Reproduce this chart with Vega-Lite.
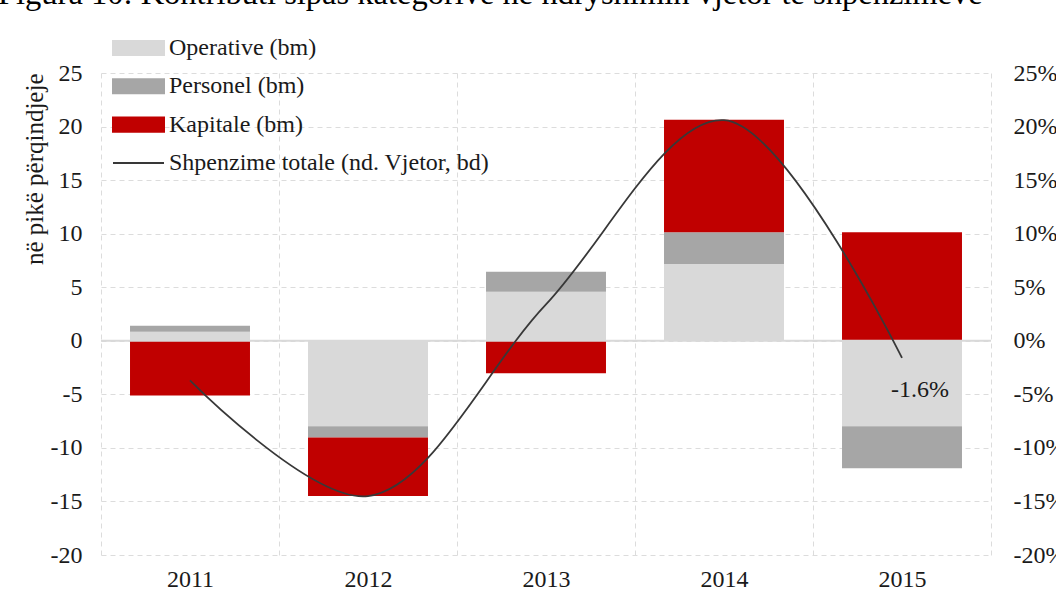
{
  "$schema": "https://vega.github.io/schema/vega-lite/v6.json",
  "width": 890,
  "height": 482,
  "autosize": {"type": "none"},
  "padding": {"left": 101, "top": 73, "right": 65, "bottom": 44},
  "title": {
    "text": "Figura 10: Kontributi sipas kategorive në ndryshimin vjetor të shpenzimeve",
    "anchor": "start",
    "frame": "bounds",
    "font": "Liberation Serif",
    "fontSize": 32.5,
    "fontWeight": "normal",
    "color": "#000000",
    "offset": 18,
    "dx": -24,
    "dy": -4
  },
  "config": {
    "font": "Liberation Serif",
    "view": {"stroke": null},
    "axis": {
      "labelFont": "Liberation Serif",
      "labelFontSize": 24,
      "labelColor": "#1a1a1a",
      "titleFont": "Liberation Serif",
      "titleFontSize": 25,
      "titleFontWeight": "normal",
      "titleColor": "#1a1a1a"
    }
  },
  "datasets": {
    "bars": [
      {"year": "2011", "category": "Operative (bm)", "value": 0.84, "seq": 1},
      {"year": "2011", "category": "Personel (bm)", "value": 0.56, "seq": 2},
      {"year": "2011", "category": "Kapitale (bm)", "value": -5.1, "seq": 3},
      {"year": "2012", "category": "Operative (bm)", "value": -7.97, "seq": 1},
      {"year": "2012", "category": "Personel (bm)", "value": -1.06, "seq": 2},
      {"year": "2012", "category": "Kapitale (bm)", "value": -5.46, "seq": 3},
      {"year": "2013", "category": "Operative (bm)", "value": 4.58, "seq": 1},
      {"year": "2013", "category": "Personel (bm)", "value": 1.87, "seq": 2},
      {"year": "2013", "category": "Kapitale (bm)", "value": -3.02, "seq": 3},
      {"year": "2014", "category": "Operative (bm)", "value": 7.17, "seq": 1},
      {"year": "2014", "category": "Personel (bm)", "value": 2.96, "seq": 2},
      {"year": "2014", "category": "Kapitale (bm)", "value": 10.5, "seq": 3},
      {"year": "2015", "category": "Operative (bm)", "value": -7.97, "seq": 1},
      {"year": "2015", "category": "Personel (bm)", "value": -3.93, "seq": 2},
      {"year": "2015", "category": "Kapitale (bm)", "value": 10.13, "seq": 3}
    ],
    "line": [
      {"year": "2011", "series": "Shpenzime totale (nd. Vjetor, bd)", "value": -3.7, "label": ""},
      {"year": "2012", "series": "Shpenzime totale (nd. Vjetor, bd)", "value": -14.5, "label": ""},
      {"year": "2013", "series": "Shpenzime totale (nd. Vjetor, bd)", "value": 3.4, "label": ""},
      {"year": "2014", "series": "Shpenzime totale (nd. Vjetor, bd)", "value": 20.6, "label": ""},
      {"year": "2015", "series": "Shpenzime totale (nd. Vjetor, bd)", "value": -1.6, "label": "-1.6%"}
    ],
    "zero": [{"base": 0}]
  },
  "resolve": {"scale": {"y": "independent"}},
  "layer": [
    {
      "data": {"name": "bars"},
      "mark": {"type": "bar", "width": {"band": 0.674}},
      "encoding": {
        "x": {
          "field": "year",
          "type": "ordinal",
          "scale": {"paddingInner": 0, "paddingOuter": 0},
          "axis": {
            "title": null,
            "labelAngle": 0,
            "ticks": false,
            "domain": false,
            "grid": true,
            "tickBand": "extent",
            "gridDash": [5, 4],
            "gridColor": "#dcdcdc",
            "gridWidth": 1,
            "labelPadding": 12
          }
        },
        "y": {
          "field": "value",
          "type": "quantitative",
          "stack": "zero",
          "scale": {"domain": [-20, 25], "nice": false},
          "axis": {
            "orient": "left",
            "title": "në pikë përqindjeje",
            "titleAnchor": "end",
            "titlePadding": 3,
            "values": [-20, -15, -10, -5, 0, 5, 10, 15, 20, 25],
            "labelExpr": "'' + datum.value",
            "grid": true,
            "gridDash": [5, 4],
            "gridColor": "#dcdcdc",
            "ticks": false,
            "domain": false,
            "labelPadding": 19
          }
        },
        "color": {
          "field": "category",
          "type": "nominal",
          "scale": {
            "domain": ["Operative (bm)", "Personel (bm)", "Kapitale (bm)", "Shpenzime totale (nd. Vjetor, bd)"],
            "range": ["#d9d9d9", "#a6a6a6", "#c00000", "#383838"]
          },
          "legend": {
            "title": null,
            "orient": "none",
            "legendX": 21.5,
            "legendY": -41,
            "direction": "vertical",
            "padding": 0,
            "rowPadding": 10.3,
            "labelFont": "Liberation Serif",
            "labelFontSize": 24,
            "labelColor": "#1a1a1a",
            "labelOffset": 14.5,
            "labelLimit": 600,
            "symbolSize": 900,
            "symbolType": "M-1.7,-0.47L1.7,-0.47L1.7,0.47L-1.7,0.47Z",
            "encode": {
              "symbols": {
                "update": {
                  "shape": {"signal": "datum.label == 'Shpenzime totale (nd. Vjetor, bd)' ? 'M-1.7,0L1.7,0' : 'M-1.7,-0.47L1.7,-0.47L1.7,0.47L-1.7,0.47Z'"},
                  "fill": {"signal": "datum.label == 'Shpenzime totale (nd. Vjetor, bd)' ? 'transparent' : scale('color', datum.value)"},
                  "stroke": {"signal": "datum.label == 'Shpenzime totale (nd. Vjetor, bd)' ? '#383838' : 'transparent'"},
                  "strokeWidth": {"value": 2},
                  "opacity": {"value": 1}
                }
              }
            }
          }
        },
        "order": {"field": "seq", "type": "quantitative"}
      }
    },
    {
      "data": {"name": "zero"},
      "mark": {"type": "rule", "color": "#d9d9d9", "strokeWidth": 2},
      "encoding": {
        "y": {"field": "base", "type": "quantitative", "scale": {"domain": [-20, 25], "nice": false}, "axis": null}
      }
    },
    {
      "data": {"name": "line"},
      "mark": {"type": "line", "interpolate": "catmull-rom", "strokeWidth": 1.8},
      "encoding": {
        "x": {"field": "year", "type": "ordinal"},
        "y": {
          "field": "value",
          "type": "quantitative",
          "scale": {"domain": [-20, 25], "nice": false},
          "axis": {
            "orient": "right",
            "title": null,
            "values": [-20, -15, -10, -5, 0, 5, 10, 15, 20, 25],
            "labelExpr": "datum.value + '%'",
            "grid": false,
            "ticks": false,
            "domain": false,
            "labelPadding": 22
          }
        },
        "color": {"field": "series", "type": "nominal"}
      }
    },
    {
      "data": {"name": "line"},
      "transform": [{"filter": "datum.label != ''"}],
      "mark": {"type": "text", "dx": 18, "dy": 32, "font": "Liberation Serif", "fontSize": 24, "color": "#1a1a1a"},
      "encoding": {
        "x": {"field": "year", "type": "ordinal"},
        "y": {"field": "value", "type": "quantitative", "scale": {"domain": [-20, 25], "nice": false}, "axis": null},
        "text": {"field": "label"}
      }
    }
  ]
}
